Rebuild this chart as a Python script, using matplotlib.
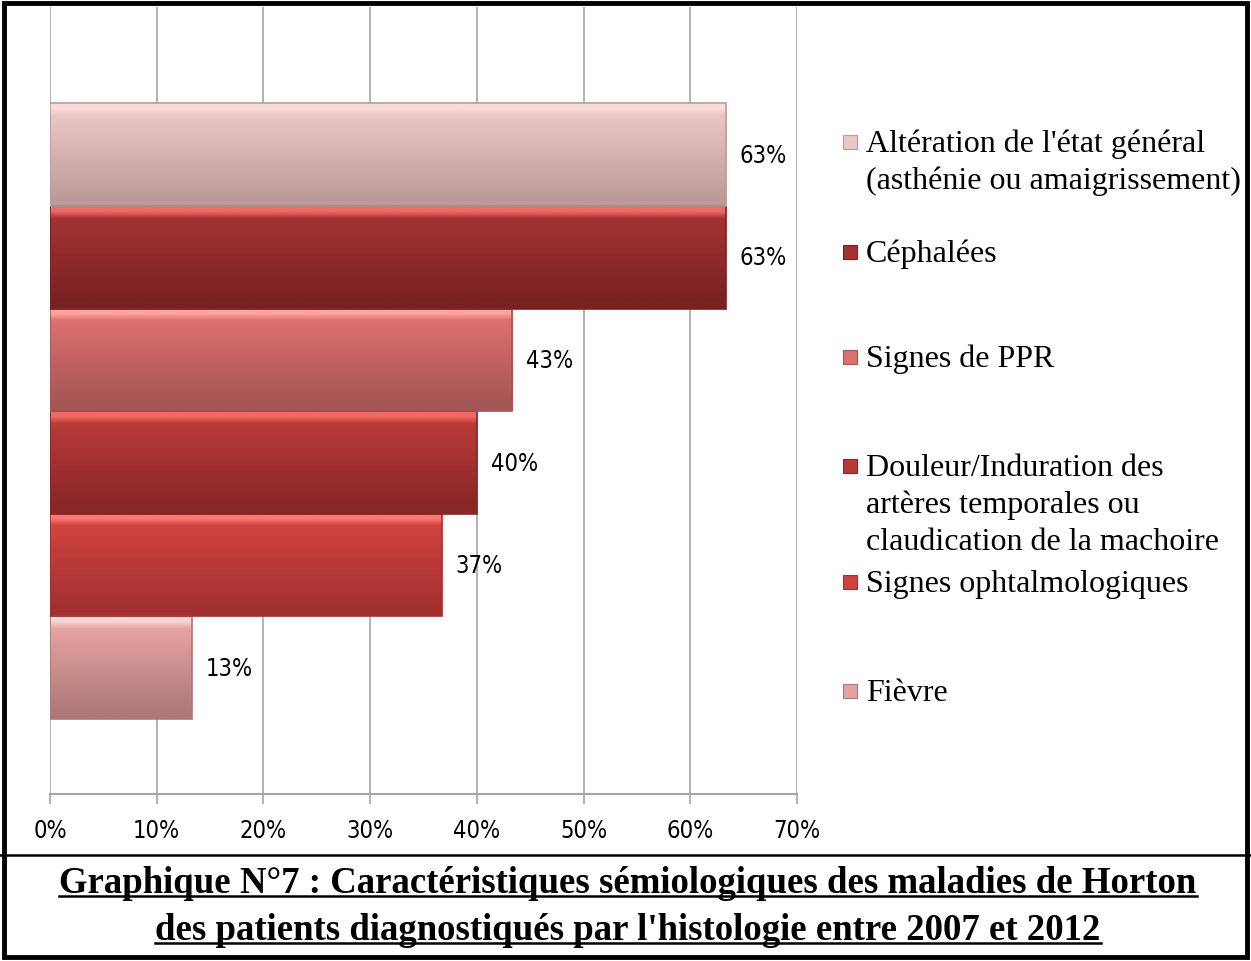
import numpy as np
import matplotlib
matplotlib.use("Agg")
from matplotlib import pyplot as plt
from matplotlib.colors import LinearSegmentedColormap
from matplotlib.lines import Line2D
from matplotlib.patches import Rectangle

# data (bottom to top, as drawn)
labels = ["Fièvre",
          "Signes ophtalmologiques",
          "Douleur/Induration des\nartères temporales ou\nclaudication de la machoire",
          "Signes de PPR",
          "Céphalées",
          "Altération de l'état général\n(asthénie ou amaigrissement)"]
values = [13.3, 36.7, 40.0, 43.3, 63.3, 63.3]
value_text = ["13%", "37%", "40%", "43%", "63%", "63%"]
xticks = [0, 10, 20, 30, 40, 50, 60, 70]

# colours: (highlight, top, bottom)
shades = [("#f8d6d6", "#e6a2a2", "#ad7878"),
          ("#ff7a72", "#cf433f", "#a23030"),
          ("#f06a66", "#ba3937", "#872727"),
          ("#ffa4a0", "#dc706e", "#a55555"),
          ("#f06a66", "#a43232", "#782121"),
          ("#f8dcdc", "#ecc6c6", "#bb9a9a")]

title = ["Graphique N°7 : Caractéristiques sémiologiques des maladies de Horton",
         "des patients diagnostiqués par l'histologie entre 2007 et 2012"]

W, H = 1251, 962
fig = plt.figure(figsize=(W / 100, H / 100), dpi=100)
ax = fig.add_axes([50 / W, 1 - 795 / H, 747 / W, 787 / H])

narrow = ["Liberation Sans Narrow", "DejaVu Sans"]
serif = ["Liberation Serif", "DejaVu Serif"]

ypos = np.arange(len(values))
bars = ax.barh(ypos, values, height=1.0, color="none", edgecolor="none", zorder=3)

for bar, (hi, top, bot) in zip(bars, shades):
    x, y, w, h = bar.get_x(), bar.get_y(), bar.get_width(), bar.get_height()
    cmap = LinearSegmentedColormap.from_list("b", [(0, bot), (0.06, bot), (0.88, top), (0.95, hi), (1, hi)])
    grad = np.linspace(0, 1, 256).reshape(-1, 1)
    im = ax.imshow(grad, cmap=cmap, extent=[x, x + w, y, y + h], origin="lower",
                   aspect="auto", zorder=3, interpolation="bilinear")
    clip = Rectangle((x, y), w, h, transform=ax.transData)
    im.set_clip_path(clip)
    ax.add_patch(Rectangle((x, y), w, h, fill=False, edgecolor=bot, lw=1.2, zorder=4))

for v, t, y in zip(values, value_text, ypos):
    ax.text(v + 1.3, y, t, va="center", ha="left", fontsize=17, family=narrow,
            fontstretch="condensed", zorder=5)

ax.set_xlim(0, 70)
ax.set_ylim(-1.23, 6.44)
ax.set_xticks(xticks)
ax.set_xticklabels([f"{t}%" for t in xticks], fontsize=17, family=narrow,
                   fontstretch="condensed")
ax.set_yticks([])
ax.grid(axis="x", color="#a6a6a6", lw=1.2, zorder=0)
ax.set_axisbelow(True)
for s in ["top", "right", "left"]:
    ax.spines[s].set_visible(False)
ax.spines["bottom"].set_color("#a6a6a6")
ax.spines["bottom"].set_linewidth(1.5)
ax.tick_params(axis="x", length=7, width=1.2, color="#a6a6a6", direction="out", pad=10)

# legend drawn manually, top entry first (first-line baselines in px)
leg_base = [152, 262, 367, 476, 592, 701]
line_step = 37
for (hi, top, bot), lab, py in zip(shades[::-1], labels[::-1], leg_base):
    fig.patches.append(Rectangle((843 / W, 1 - (py - 2) / H), 14 / W, 14 / H,
                                 transform=fig.transFigure, facecolor=top, edgecolor=bot, lw=0.8))
    for k, part in enumerate(lab.split("\n")):
        fig.text(866 / W, 1 - (py + k * line_step) / H, part, va="baseline", ha="left",
                 fontsize=23, family=serif)

# title with underline
title_texts = []
for line, py in zip(title, [893, 940]):
    tt = fig.text(628 / W, 1 - py / H, line, ha="center", va="baseline", fontsize=26.5,
                  family=serif, weight="bold")
    title_texts.append((tt, py))

fig.canvas.draw()
r = fig.canvas.get_renderer()
for tt, py in title_texts:
    bb = tt.get_window_extent(renderer=r)
    yy = 1 - (py + 4) / H
    fig.lines.append(Line2D([bb.x0 / W, bb.x1 / W], [yy, yy], transform=fig.transFigure,
                            color="black", lw=1.8))

# frame
fig.patches.append(Rectangle((0.003, 0.004), 0.994, 0.992, transform=fig.transFigure,
                             fill=False, edgecolor="black", lw=3.5))
fig.lines.append(Line2D([0, 1], [1 - 856 / H, 1 - 856 / H], transform=fig.transFigure,
                        color="black", lw=1.8))

fig.savefig("out.png", dpi=100)
